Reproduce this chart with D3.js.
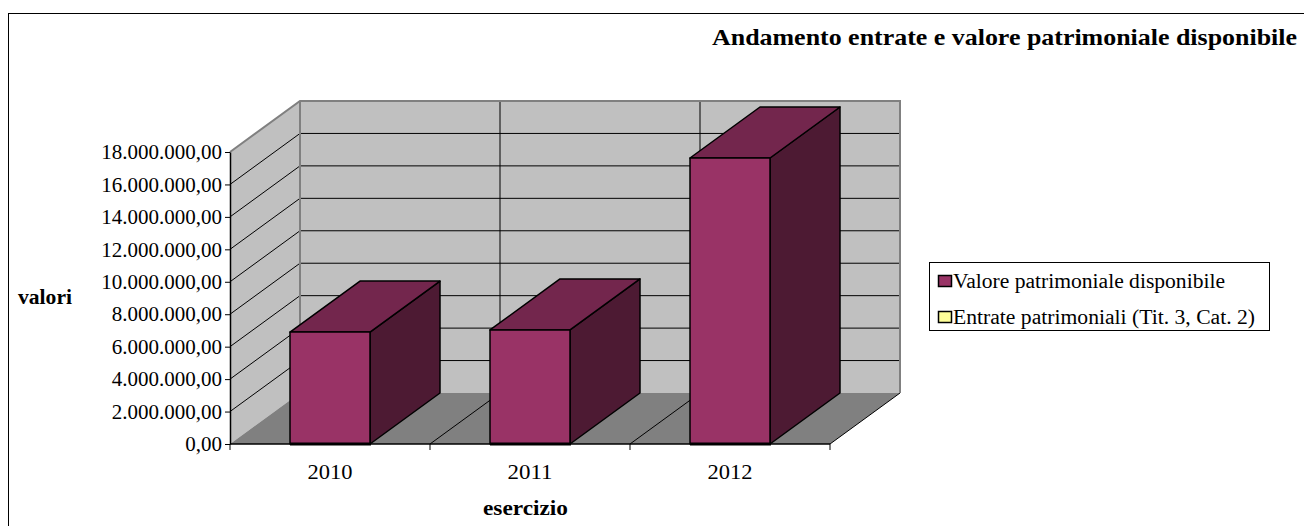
<!DOCTYPE html>
<html>
<head>
<meta charset="utf-8">
<script src="https://cdn.jsdelivr.net/npm/d3@7"></script>
<style>
  html, body { margin: 0; padding: 0; background: #ffffff; }
  svg { display: block; }
  text { font-family: "Liberation Serif", "Times New Roman", serif; fill: #000; }
</style>
</head>
<body>
<svg id="chart" width="1304" height="526"></svg>
<script>
// Data
const categories = ["2010", "2011", "2012"];
const valorePatrimoniale = [6900000, 7030000, 17630000];
const entratePatrimoniali = [0, 0, 0];
const seriesNames = ["Valore patrimoniale disponibile", "Entrate patrimoniali (Tit. 3, Cat. 2)"];
const yTicks = [0, 2000000, 4000000, 6000000, 8000000, 10000000, 12000000, 14000000, 16000000, 18000000];

const svg = d3.select("#chart");
const serif = "'Liberation Serif', 'Times New Roman', serif";

// Layout and 3D projection
const plot = { left: 230, right: 830, top: 152, bottom: 444 };
const depth = { dx: 70, dy: -51 };

const x = d3.scaleBand().domain(categories).range([plot.left, plot.right]).paddingInner(0.6).paddingOuter(0.3);
const xBand = d3.scaleBand().domain(categories).range([plot.left, plot.right]).padding(0);
const y = d3.scaleLinear().domain([0, 18000000]).range([plot.bottom, plot.top]);

const it = d3.formatLocale({ decimal: ",", thousands: ".", grouping: [3], currency: ["€", ""] });
const fmt = it.format(",.2f");

const colors = {
  wall: "#c0c0c0",
  floor: "#808080",
  edge: "#808080",
  front: ["#993366", "#ffff99"],
  top: ["#73264d", "#bfbf73"],
  side: ["#4d1a33", "#80804d"]
};

const P = (px, py, z) => [px + depth.dx * z, py + depth.dy * z];
const poly = pts => "M" + pts.map(p => p.join(",")).join("L") + "Z";

// Stretch a text element to a given width
const fit = (sel, w) => sel.attr("textLength", w).attr("lengthAdjust", "spacingAndGlyphs");

// Outer frame
svg.append("rect").attr("x", 8.5).attr("y", 13.5).attr("width", 1310).attr("height", 530)
  .attr("fill", "#fff").attr("stroke", "#000").attr("stroke-width", 1);

// Walls and floor
const y0 = y(0), yMax = y(18000000);
svg.append("path").attr("d", poly([P(plot.left, y0, 0), P(plot.left, yMax, 0), P(plot.left, yMax, 1), P(plot.left, y0, 1)]))
  .attr("fill", colors.wall);
svg.append("path").attr("d", poly([P(plot.left, y0, 1), P(plot.left, yMax, 1), P(plot.right, yMax, 1), P(plot.right, y0, 1)]))
  .attr("fill", colors.wall);
svg.append("path").attr("d", poly([P(plot.left, y0, 0), P(plot.right, y0, 0), P(plot.right, y0, 1), P(plot.left, y0, 1)]))
  .attr("fill", colors.floor);

// Value gridlines on side and back wall
const grid = svg.append("g").attr("stroke", "#000").attr("stroke-width", 1).attr("fill", "none");
yTicks.filter(v => v > 0 && v < 18000000).forEach(v => {
  const a = P(plot.left, y(v), 0), b = P(plot.left, y(v), 1), c = P(plot.right, y(v), 1);
  grid.append("path").attr("d", `M${a}L${b}L${c}`);
});

// Category gridlines on back wall and floor
categories.forEach((c, i) => {
  if (i === 0) return;
  const bx = xBand(c);
  const a = P(bx, y0, 0), b = P(bx, y0, 1), t = P(bx, yMax, 1);
  grid.append("path").attr("d", `M${a}L${b}L${t}`);
});
{
  const a = P(plot.right, y0, 0), b = P(plot.right, y0, 1);
  grid.append("path").attr("d", `M${a}L${b}`);
}

// Wall edges
const edges = svg.append("g").attr("stroke", colors.edge).attr("stroke-width", 2).attr("fill", "none");
edges.append("path").attr("d", `M${P(plot.left, yMax, 0)}L${P(plot.left, yMax, 1)}L${P(plot.right, yMax, 1)}L${P(plot.right, y0, 1)}`);
edges.append("path").attr("d", `M${P(plot.left, yMax, 1)}L${P(plot.left, y0, 1)}`);

// Bars (stacked series), full depth
const stackData = categories.map((c, i) => ({ cat: c, v: [valorePatrimoniale[i], entratePatrimoniali[i]] }));
const bars = svg.append("g");
stackData.forEach(d => {
  let base = 0;
  d.v.forEach((val, s) => {
    if (val <= 0) return;
    const x0 = x(d.cat), x1 = x0 + x.bandwidth();
    const yb = y(base), yt = y(base + val);
    const g = bars.append("g").attr("stroke", "#000").attr("stroke-width", 1.5).attr("stroke-linejoin", "round");
    g.append("path").attr("d", poly([P(x1, yb, 0), P(x1, yt, 0), P(x1, yt, 1), P(x1, yb, 1)])).attr("fill", colors.side[s]);
    g.append("path").attr("d", poly([P(x0, yt, 0), P(x1, yt, 0), P(x1, yt, 1), P(x0, yt, 1)])).attr("fill", colors.top[s]);
    g.append("path").attr("d", poly([P(x0, yb, 0), P(x1, yb, 0), P(x1, yt, 0), P(x0, yt, 0)])).attr("fill", colors.front[s]);
    if (base === 0) {
      g.append("line").attr("x1", x0).attr("x2", x1 + 1).attr("y1", yb).attr("y2", yb).attr("stroke-width", 3);
    }
    base += val;
  });
});

// Y axis
const yAxis = d3.axisLeft(y).tickValues(yTicks).tickFormat(fmt).tickSize(5).tickSizeOuter(0).tickPadding(3);
const gy = svg.append("g").attr("transform", `translate(${plot.left},0)`).call(yAxis)
  .attr("font-family", serif).attr("font-size", 21);
gy.select(".domain").attr("stroke", "#000").attr("stroke-width", 1.5);
gy.selectAll(".tick line").attr("stroke", "#000");
gy.selectAll("text").style("font-family", serif).attr("font-size", 21);

// X axis: baseline, boundary ticks and category labels
svg.append("line").attr("x1", plot.left).attr("x2", plot.right).attr("y1", y0).attr("y2", y0).attr("stroke", "#000").attr("stroke-width", 1.5);
const bounds = categories.map(c => xBand(c)).concat([plot.right]);
svg.append("g").selectAll("line").data(bounds).join("line")
  .attr("x1", d => d).attr("x2", d => d).attr("y1", y0).attr("y2", y0 + 6)
  .attr("stroke", "#000");
const xAxis = d3.axisBottom(xBand).tickSize(0).tickPadding(19);
const gx = svg.append("g").attr("transform", `translate(0,${y0})`).call(xAxis)
  .attr("font-family", serif).attr("font-size", 22);
gx.select(".domain").remove();
gx.selectAll("text").style("font-family", serif).attr("font-size", 22);
fit(gx.selectAll("text"), 45);

// Axis titles
fit(svg.append("text").attr("x", 18).attr("y", 304)
  .attr("font-size", 20).attr("font-weight", "bold").text("valori"), 54);
fit(svg.append("text").attr("x", 483).attr("y", 515)
  .attr("font-size", 20).attr("font-weight", "bold").text("esercizio"), 85);

// Chart title
fit(svg.append("text").attr("x", 712).attr("y", 45)
  .attr("font-size", 24).attr("font-weight", "bold")
  .text("Andamento entrate e valore patrimoniale disponibile"), 585);

// Legend
const legendWidths = [272, 302];
const lg = svg.append("g");
lg.append("rect").attr("x", 929.5).attr("y", 262.5).attr("width", 340).attr("height", 68)
  .attr("fill", "#fff").attr("stroke", "#000");
seriesNames.forEach((name, i) => {
  const cy = 281 + i * 36;
  lg.append("rect").attr("x", 938.5).attr("y", cy - 5.5).attr("width", 13).attr("height", 11)
    .attr("fill", colors.front[i]).attr("stroke", "#000").attr("stroke-width", 1.5);
  fit(lg.append("text").attr("x", 953).attr("y", cy + 7).attr("font-size", 20).text(name), legendWidths[i]);
});
</script>
</body>
</html>
